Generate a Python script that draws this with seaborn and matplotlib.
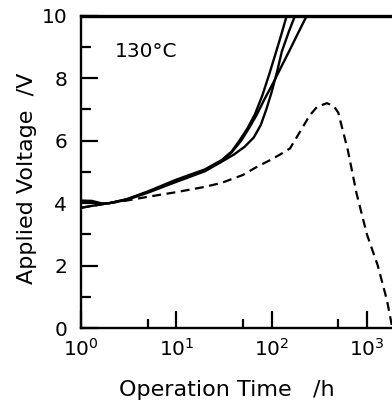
import numpy as np
import pandas as pd
import matplotlib
matplotlib.use("Agg")
import matplotlib.pyplot as plt
import seaborn as sns
from matplotlib.ticker import FixedLocator, NullFormatter

# --- data ---
time_a = [1, 1.3, 1.7, 2, 3, 5, 10, 20, 30, 38, 46, 56, 67, 80, 95, 113, 128, 144]
volt_a = [4.08, 4.07, 3.98, 4.0, 4.12, 4.37, 4.75, 5.08, 5.38, 5.65, 6.0, 6.4, 6.85,
          7.45, 8.15, 8.9, 9.45, 10]

time_b = [1, 1.3, 1.7, 2, 3, 5, 10, 20, 29, 40, 52, 65, 77, 88, 100, 114, 128, 150, 176]
volt_b = [4.03, 4.02, 3.98, 4.0, 4.1, 4.33, 4.68, 5.02, 5.3, 5.55, 5.8, 6.1, 6.5, 7.0,
          7.55, 8.2, 8.85, 9.45, 10]

time_c = [1, 1.3, 1.7, 2, 3, 5, 10, 20, 30, 38, 48, 58, 69, 85, 104, 128, 155, 190, 234]
volt_c = [3.85, 3.91, 3.97, 4.0, 4.12, 4.35, 4.72, 5.05, 5.35, 5.62, 6.0, 6.4, 6.8,
          7.35, 7.85, 8.4, 8.9, 9.45, 10]

time_d = [1, 2, 3, 5, 10, 20, 30, 50, 70, 100, 130, 156, 200, 250, 300, 380, 450,
          500, 630, 780, 1000, 1300, 1620, 1850]
volt_d = [3.85, 4.0, 4.08, 4.2, 4.35, 4.52, 4.65, 4.9, 5.16, 5.4, 5.6, 5.75, 6.3, 6.8,
          7.08, 7.2, 7.1, 6.9, 5.7, 4.3, 3.0, 2.0, 0.9, 0]

major_x = [1, 10, 100, 1000]
minor_x = [5, 50, 500]
x_labels = [r"$10^0$", r"$10^1$", r"$10^2$", r"$10^3$"]
major_y = [0, 2, 4, 6, 8, 10]
minor_y = [1, 3, 5, 7, 9]

sns.set_style("ticks")
plt.rcParams["font.family"] = ["DejaVu Sans"]
plt.rcParams["mathtext.fontset"] = "dejavusans"
for k in ["text.color", "axes.labelcolor", "xtick.color", "ytick.color", "axes.edgecolor"]:
    plt.rcParams[k] = "black"

fig = plt.figure(figsize=(3.92, 4.05), dpi=100)
W, H = 392, 405
x0, x1, y_top, y_bot = 81, 392, 15.7, 328
ax = fig.add_axes([x0 / W, (H - y_bot) / H, (x1 - x0) / W, (y_bot - y_top) / H])

lw = 1.7
for t, v in [(time_a, volt_a), (time_b, volt_b), (time_c, volt_c)]:
    df = pd.DataFrame({"t": t, "v": v})
    sns.lineplot(data=df, x="t", y="v", ax=ax, color="black", linewidth=lw, sort=True)
df_d = pd.DataFrame({"t": time_d, "v": volt_d})
sns.lineplot(data=df_d, x="t", y="v", ax=ax, color="black", linewidth=1.6,
             linestyle=(0, (4.0, 2.5)))

ax.set_xscale("log")
ax.set_xlim(1, 10 ** ((x1 - x0) / 95.3))
ax.set_ylim(0, 10)

ax.set_xticks(major_x)
ax.set_xticklabels(x_labels)
ax.xaxis.set_minor_locator(FixedLocator(minor_x))
ax.xaxis.set_minor_formatter(NullFormatter())
ax.set_yticks(major_y)
ax.set_yticklabels([str(v) for v in major_y])
ax.yaxis.set_minor_locator(FixedLocator(minor_y))

ax.tick_params(axis="both", which="both", direction="in", color="black", width=1.6,
               labelcolor="black", bottom=True, left=True, top=False, right=False)
ax.tick_params(axis="y", which="major", length=12, pad=10, labelsize=14.5)
ax.tick_params(axis="y", which="minor", length=7.5)
ax.tick_params(axis="x", which="major", length=12, pad=7, labelsize=14.5)
ax.tick_params(axis="x", which="minor", length=6.5)

for s in ["left", "bottom"]:
    ax.spines[s].set_linewidth(1.7)
    ax.spines[s].set_color("black")
ax.spines["top"].set_visible(True)
ax.spines["top"].set_linewidth(2.4)
ax.spines["top"].set_color("black")
ax.spines["right"].set_visible(False)

ax.set_xlabel("Operation Time   /h", fontsize=16, color="black")
ax.xaxis.set_label_coords(0.47, -0.165)
ax.set_ylabel("Applied Voltage  /V", fontsize=16, color="black")
ax.yaxis.set_label_coords(-0.14, 0.48)
ax.text(0.11, 0.885, "130°C", transform=ax.transAxes, fontsize=14.5, va="center",
        ha="left", color="black")

fig.savefig("out.png", dpi=100)
